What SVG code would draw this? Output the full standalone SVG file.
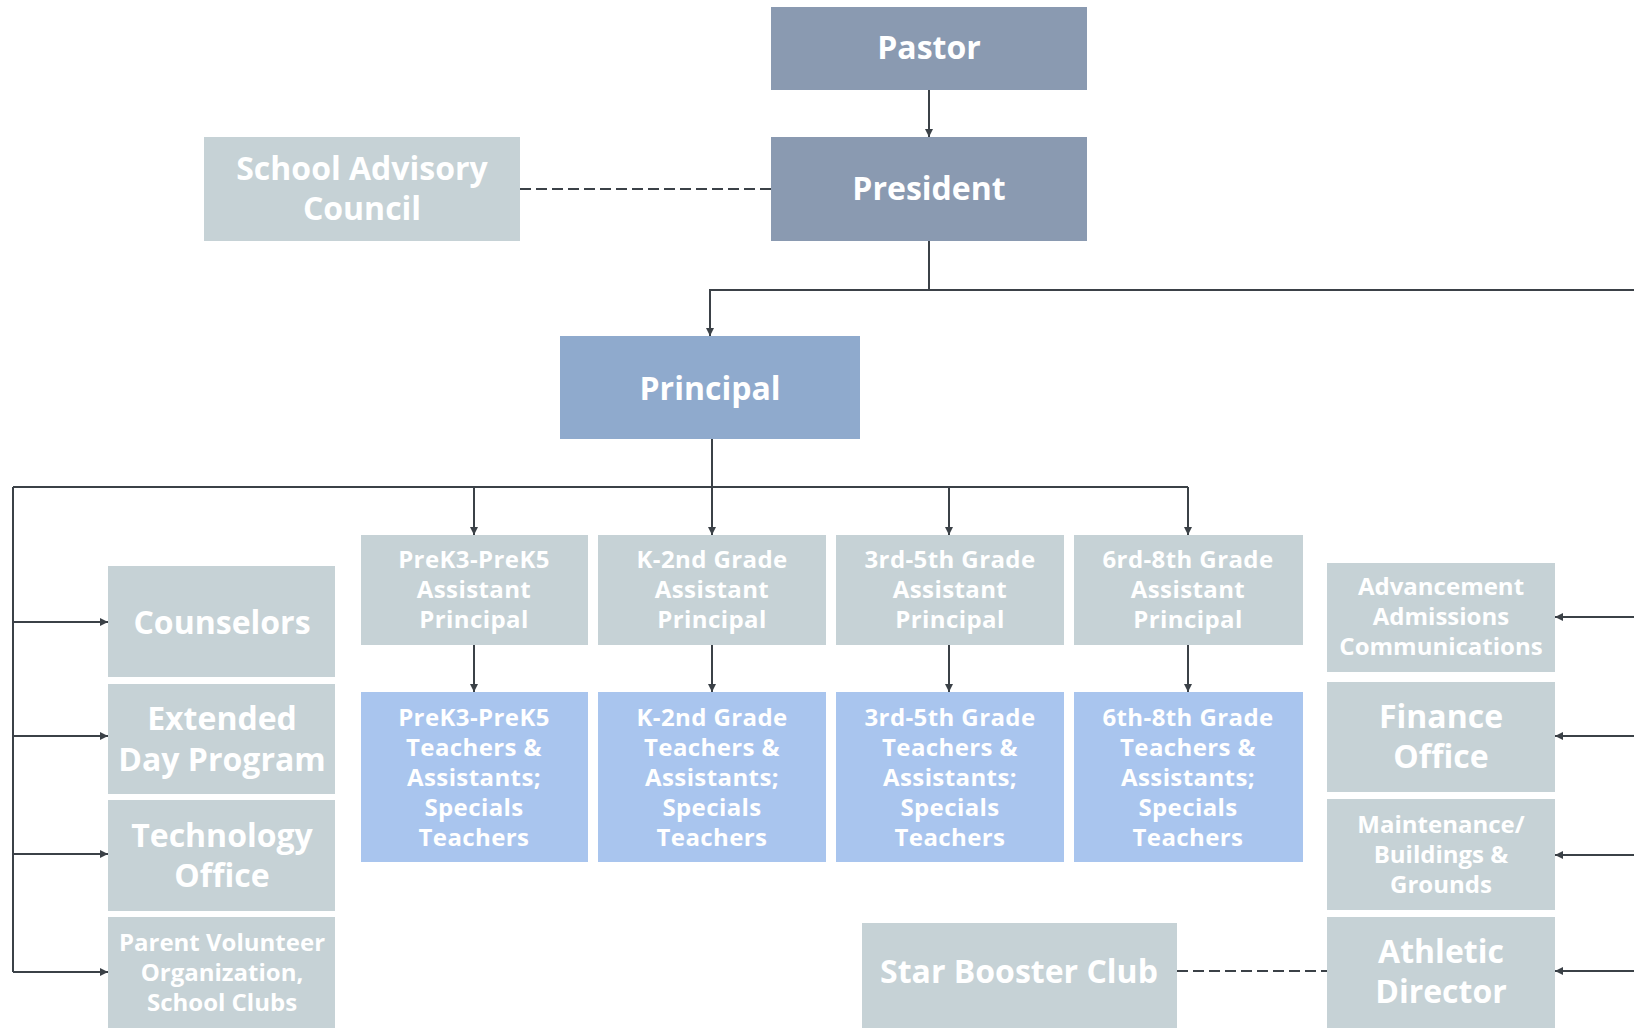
<svg xmlns="http://www.w3.org/2000/svg" width="1634" height="1028" viewBox="0 0 1634 1028">
<style>
.t{font-family:"Open Sans","Liberation Sans",sans-serif;font-weight:700;fill:#ffffff;text-anchor:middle}
.l{font-size:32px}
.m{font-size:32px}
.s{font-size:24px;letter-spacing:0.4px}
.xs{font-size:24px}
.dark{fill:#8a9ab1}
.prin{fill:#8faacd}
.gray{fill:#c6d2d6}
.blue{fill:#a9c5ee}
.c{stroke:#3b4147;stroke-width:2;fill:none}
.d{stroke:#3b4147;stroke-width:2;fill:none;stroke-dasharray:11 5}
</style>
<defs>
<marker id="ah" viewBox="0 0 10 10" refX="10" refY="5" markerWidth="4" markerHeight="4" orient="auto-start-reverse" markerUnits="strokeWidth">
<path d="M0,0 L10,5 L0,10 z" fill="#3b4147"/>
</marker>
</defs>
<rect width="1634" height="1028" fill="#ffffff"/>
<g id="connectors">
<path class="c" d="M929,90 V137" marker-end="url(#ah)"/>
<path class="d" d="M520,189 H771"/>
<path class="c" d="M929,241 V290 H1634"/>
<path class="c" d="M929,290 H710 V336" marker-end="url(#ah)"/>
<path class="c" d="M712,439 V487"/>
<path class="c" d="M13,487 H1188"/>
<path class="c" d="M474,487 V535" marker-end="url(#ah)"/>
<path class="c" d="M712,487 V535" marker-end="url(#ah)"/>
<path class="c" d="M949,487 V535" marker-end="url(#ah)"/>
<path class="c" d="M1188,487 V535" marker-end="url(#ah)"/>
<path class="c" d="M474,645 V692" marker-end="url(#ah)"/>
<path class="c" d="M712,645 V692" marker-end="url(#ah)"/>
<path class="c" d="M949,645 V692" marker-end="url(#ah)"/>
<path class="c" d="M1188,645 V692" marker-end="url(#ah)"/>
<path class="c" d="M13,487 V972"/>
<path class="c" d="M13,622 H108" marker-end="url(#ah)"/>
<path class="c" d="M13,736 H108" marker-end="url(#ah)"/>
<path class="c" d="M13,854 H108" marker-end="url(#ah)"/>
<path class="c" d="M13,972 H108" marker-end="url(#ah)"/>
<path class="c" d="M1634,617 H1555" marker-end="url(#ah)"/>
<path class="c" d="M1634,736 H1555" marker-end="url(#ah)"/>
<path class="c" d="M1634,855 H1555" marker-end="url(#ah)"/>
<path class="c" d="M1634,971 H1555" marker-end="url(#ah)"/>
<path class="d" d="M1177,971 H1327"/>
</g>
<g id="pastor"><rect class="dark" x="771" y="7" width="316" height="83"/><text class="t l" x="929" y="59">Pastor</text></g>
<g id="president"><rect class="dark" x="771" y="137" width="316" height="104"/><text class="t l" x="929" y="200">President</text></g>
<g id="advisory"><rect class="gray" x="204" y="137" width="316" height="104"/><text class="t l" x="362" y="180">School Advisory</text><text class="t l" x="362" y="220">Council</text></g>
<g id="principal"><rect class="prin" x="560" y="336" width="300" height="103"/><text class="t l" x="710" y="400">Principal</text></g>
<g id="ap-prek"><rect class="gray" x="361" y="535" width="227" height="110"/><text class="t s" x="474" y="568">PreK3-PreK5</text><text class="t s" x="474" y="598">Assistant</text><text class="t s" x="474" y="628">Principal</text></g>
<g id="ap-k2"><rect class="gray" x="598" y="535" width="228" height="110"/><text class="t s" x="712" y="568">K-2nd Grade</text><text class="t s" x="712" y="598">Assistant</text><text class="t s" x="712" y="628">Principal</text></g>
<g id="ap-35"><rect class="gray" x="836" y="535" width="228" height="110"/><text class="t s" x="950" y="568">3rd-5th Grade</text><text class="t s" x="950" y="598">Assistant</text><text class="t s" x="950" y="628">Principal</text></g>
<g id="ap-68"><rect class="gray" x="1074" y="535" width="229" height="110"/><text class="t s" x="1188" y="568">6rd-8th Grade</text><text class="t s" x="1188" y="598">Assistant</text><text class="t s" x="1188" y="628">Principal</text></g>
<g id="t-prek"><rect class="blue" x="361" y="692" width="227" height="170"/><text class="t s" x="474" y="726">PreK3-PreK5</text><text class="t s" x="474" y="756">Teachers &amp;</text><text class="t s" x="474" y="786">Assistants;</text><text class="t s" x="474" y="816">Specials</text><text class="t s" x="474" y="846">Teachers</text></g>
<g id="t-k2"><rect class="blue" x="598" y="692" width="228" height="170"/><text class="t s" x="712" y="726">K-2nd Grade</text><text class="t s" x="712" y="756">Teachers &amp;</text><text class="t s" x="712" y="786">Assistants;</text><text class="t s" x="712" y="816">Specials</text><text class="t s" x="712" y="846">Teachers</text></g>
<g id="t-35"><rect class="blue" x="836" y="692" width="228" height="170"/><text class="t s" x="950" y="726">3rd-5th Grade</text><text class="t s" x="950" y="756">Teachers &amp;</text><text class="t s" x="950" y="786">Assistants;</text><text class="t s" x="950" y="816">Specials</text><text class="t s" x="950" y="846">Teachers</text></g>
<g id="t-68"><rect class="blue" x="1074" y="692" width="229" height="170"/><text class="t s" x="1188" y="726">6th-8th Grade</text><text class="t s" x="1188" y="756">Teachers &amp;</text><text class="t s" x="1188" y="786">Assistants;</text><text class="t s" x="1188" y="816">Specials</text><text class="t s" x="1188" y="846">Teachers</text></g>
<g id="counselors"><rect class="gray" x="108" y="566" width="227" height="111"/><text class="t m" x="222" y="634">Counselors</text></g>
<g id="extended"><rect class="gray" x="108" y="684" width="227" height="110"/><text class="t m" x="222" y="730">Extended</text><text class="t m" x="222" y="771">Day Program</text></g>
<g id="technology"><rect class="gray" x="108" y="800" width="227" height="111"/><text class="t m" x="222" y="847">Technology</text><text class="t m" x="222" y="887">Office</text></g>
<g id="parent"><rect class="gray" x="108" y="917" width="227" height="111"/><text class="t xs" x="222" y="951">Parent Volunteer</text><text class="t xs" x="222" y="981">Organization,</text><text class="t xs" x="222" y="1011">School Clubs</text></g>
<g id="advancement"><rect class="gray" x="1327" y="563" width="228" height="109"/><text class="t xs" x="1441" y="595">Advancement</text><text class="t xs" x="1441" y="625">Admissions</text><text class="t xs" x="1441" y="655">Communications</text></g>
<g id="finance"><rect class="gray" x="1327" y="682" width="228" height="110"/><text class="t m" x="1441" y="728">Finance</text><text class="t m" x="1441" y="768">Office</text></g>
<g id="maintenance"><rect class="gray" x="1327" y="799" width="228" height="111"/><text class="t xs" x="1441" y="833">Maintenance/</text><text class="t xs" x="1441" y="863">Buildings &amp;</text><text class="t xs" x="1441" y="893">Grounds</text></g>
<g id="athletic"><rect class="gray" x="1327" y="917" width="228" height="111"/><text class="t m" x="1441" y="963">Athletic</text><text class="t m" x="1441" y="1003">Director</text></g>
<g id="booster"><rect class="gray" x="862" y="923" width="315" height="105"/><text class="t m" x="1019" y="983">Star Booster Club</text></g>
</svg>
